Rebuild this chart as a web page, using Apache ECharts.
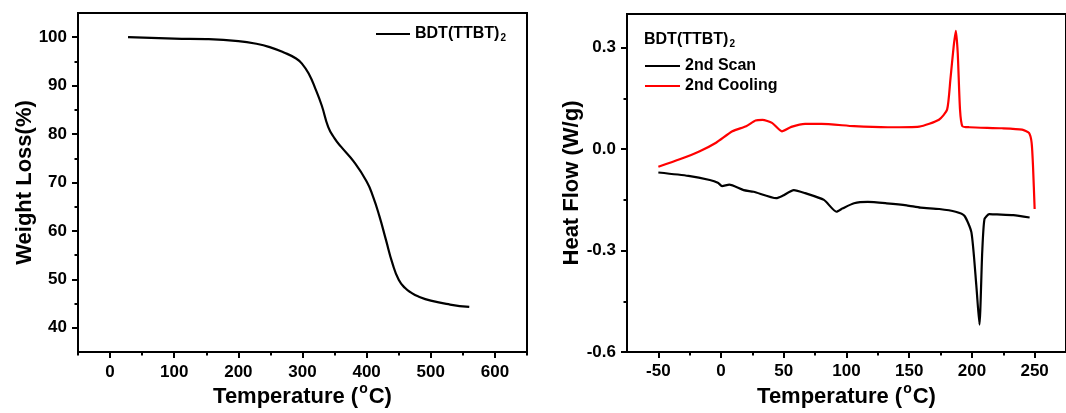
<!DOCTYPE html>
<html>
<head>
    <meta charset="UTF-8">
    <title>TGA / DSC</title>
    <script src="https://cdn.jsdelivr.net/npm/echarts@6/dist/echarts.min.js"></script>
    <style>
        body, html {
            margin: 0;
            padding: 0;
            background: #fff;
        }

        #chart {
            width: 1066px;
            height: 413px;
        }
    </style>
</head>
<body>
<div id="chart"></div>
<script>
    // TGA curve (left)
    var tgaTemp = [28, 100, 150, 200, 230, 250, 270, 290, 300, 310, 320, 330, 340, 350, 360, 380, 400, 410, 420, 430, 440, 450, 460, 470, 480, 500, 530, 560];
    var tgaWeight = [100, 99.7, 99.6, 99.2, 98.6, 97.9, 96.9, 95.6, 94.4, 92.4, 89.4, 85.9, 81.5, 79.1, 77.4, 74.3, 70.2, 67.1, 63.0, 58.2, 53.4, 49.9, 48.2, 47.2, 46.5, 45.6, 44.8, 44.3];

    // DSC curves (right)
    var scanTemp = [-50, -26, -9, -2.6, 0.8, 6.5, 18, 26, 44, 49, 58, 67, 82, 92, 97, 106, 117, 132, 148, 159, 174, 187, 194, 199.6, 203.5, 206, 208.2, 210, 213.8, 220, 233, 246];
    var scanFlow = [-0.069, -0.079, -0.091, -0.099, -0.109, -0.105, -0.121, -0.126, -0.145, -0.138, -0.121, -0.130, -0.150, -0.185, -0.175, -0.160, -0.156, -0.160, -0.166, -0.173, -0.177, -0.185, -0.197, -0.246, -0.403, -0.519, -0.305, -0.207, -0.192, -0.193, -0.195, -0.202];
    var coolTemp = [-50, -33, -17, -4, 9, 20, 27.5, 33, 40.6, 48.5, 56, 67, 80, 106, 133, 158, 173.7, 180.2, 182.8, 185.4, 187.2, 188.7, 190.5, 192.4, 198, 224, 240, 245.5, 247.6, 248.7, 250];
    var coolFlow = [-0.052, -0.030, -0.006, 0.019, 0.053, 0.068, 0.085, 0.087, 0.078, 0.053, 0.066, 0.075, 0.075, 0.068, 0.065, 0.067, 0.087, 0.117, 0.205, 0.303, 0.35, 0.283, 0.117, 0.068, 0.065, 0.062, 0.058, 0.048, 0.019, -0.050, -0.177];

    // tick labels
    var tgaXMajor = [0, 100, 200, 300, 400, 500, 600];
    var tgaXMinor = [-50, 50, 150, 250, 350, 450, 550, 650];
    var tgaYMajor = [40, 50, 60, 70, 80, 90, 100];
    var tgaYMinor = [45, 55, 65, 75, 85, 95];
    var dscXMajor = [-50, 0, 50, 100, 150, 200, 250];
    var dscXMinor = [-25, 25, 75, 125, 175, 225];
    var dscYMajor = [-0.6, -0.3, 0, 0.3];
    var dscYMinor = [-0.45, -0.15, 0.15];

    function pairs(xs, ys) {
        var out = [];
        for (var i = 0; i < xs.length; i++) out.push([xs[i], ys[i]]);
        return out;
    }

    var FONT = '"Liberation Sans", Arial, sans-serif';
    var nameStyle = {color: '#000', fontFamily: FONT, fontWeight: 'bold', fontSize: 22};
    var tempName = '{a|Temperature (}{s|o}{a|C)}';
    var tempRich = {
        a: {color: '#000', fontFamily: FONT, fontWeight: 'bold', fontSize: 22},
        s: {color: '#000', fontFamily: FONT, fontWeight: 'bold', fontSize: 14, padding: [0, 1, 16, 1]}
    };
    var subRich = {
        a: {color: '#000', fontFamily: FONT, fontWeight: 'bold', fontSize: 16},
        s: {color: '#000', fontFamily: FONT, fontWeight: 'bold', fontSize: 10, padding: [9, 0, 0, 1]}
    };
    var labelFont = {color: '#000', fontFamily: FONT, fontWeight: 'bold', fontSize: 17};

    // ticks only (optionally with the axis line and the name)
    function tickAxis(grid, pos, min, max, vals, len, extra) {
        var ax = {
            type: 'value', gridIndex: grid, position: pos, min: min, max: max,
            axisLine: {show: false, onZero: false},
            axisTick: {show: true, customValues: vals, length: len, lineStyle: {color: '#000', width: 2}},
            axisLabel: {show: false},
            splitLine: {show: false}
        };
        for (var k in extra) ax[k] = extra[k];
        return ax;
    }

    // labels only, from the opposite side moved across the grid
    function labelAxis(grid, pos, offset, min, max, vals, fmt, margin) {
        return {
            type: 'value', gridIndex: grid, position: pos, offset: offset, min: min, max: max,
            axisLine: {show: false, onZero: false},
            axisTick: {show: false},
            axisLabel: Object.assign({show: true, inside: true, customValues: vals, formatter: fmt, margin: margin}, labelFont),
            splitLine: {show: false}
        };
    }

    var lineOn = {show: true, onZero: false, lineStyle: {color: '#000', width: 2}};
    var flowFmt = function (v) { return v.toFixed(1); };

    var echart = echarts.init(document.getElementById('chart'));
    var option = {
        animation: false,
        backgroundColor: '#fff',
        grid: [
            {left: 78, top: 13, width: 449, height: 339, show: true, borderColor: '#000', borderWidth: 2},
            {left: 627, top: 14, width: 450, height: 339, show: true, borderColor: '#000', borderWidth: 2}
        ],
        title: {
            text: '{a|BDT(TTBT)}{s|2}', left: 639, top: 25,
            textStyle: {rich: subRich}
        },
        legend: [
            {
                data: ['BDT(TTBT)2'], left: 371, top: 21, icon: 'rect', itemWidth: 34, itemHeight: 2.2,
                formatter: function () { return '{a|BDT(TTBT)}{s|2}'; },
                textStyle: {rich: subRich}
            },
            {
                data: ['2nd Scan', '2nd Cooling'], orient: 'vertical', left: 640, top: 52,
                icon: 'rect', itemWidth: 35, itemHeight: 2.2, itemGap: 2,
                textStyle: {color: '#000', fontFamily: FONT, fontWeight: 'bold', fontSize: 16, lineHeight: 18}
            }
        ],
        xAxis: [
            tickAxis(0, 'bottom', -50, 650, tgaXMajor, 6, {
                axisLine: lineOn,
                name: tempName, nameLocation: 'middle', nameGap: 30,
                nameTextStyle: {rich: tempRich}
            }),
            tickAxis(0, 'bottom', -50, 650, tgaXMinor, 3.5),
            labelAxis(0, 'top', -339, -50, 650, tgaXMajor, null, 12),
            tickAxis(1, 'bottom', -75, 275, dscXMajor, 6, {
                axisLine: lineOn,
                name: tempName, nameLocation: 'middle', nameGap: 30,
                nameTextStyle: {rich: tempRich}
            }),
            tickAxis(1, 'bottom', -75, 275, dscXMinor, 3.5),
            labelAxis(1, 'top', -339, -75, 275, dscXMajor, null, 10)
        ],
        yAxis: [
            tickAxis(0, 'left', 35, 105, tgaYMajor, 6, {
                axisLine: lineOn,
                name: 'Weight Loss(%)', nameLocation: 'middle', nameGap: 42, nameRotate: 90,
                nameTextStyle: nameStyle
            }),
            tickAxis(0, 'left', 35, 105, tgaYMinor, 3.5),
            labelAxis(0, 'right', -449, 35, 105, tgaYMajor, null, 11),
            tickAxis(1, 'left', -0.6, 0.4, dscYMajor, 6, {
                axisLine: lineOn,
                name: 'Heat Flow (W/g)', nameLocation: 'middle', nameGap: 44, nameRotate: 90,
                nameTextStyle: nameStyle
            }),
            tickAxis(1, 'left', -0.6, 0.4, dscYMinor, 3.5),
            labelAxis(1, 'right', -450, -0.6, 0.4, dscYMajor, flowFmt, 0)
        ],
        series: [
            {
                name: 'BDT(TTBT)2', type: 'line', xAxisIndex: 0, yAxisIndex: 0,
                data: pairs(tgaTemp, tgaWeight), showSymbol: false, symbol: 'none',
                smooth: 0.5,
                lineStyle: {color: '#000', width: 2.2}, itemStyle: {color: '#000'}
            },
            {
                name: '2nd Scan', type: 'line', xAxisIndex: 3, yAxisIndex: 3,
                data: pairs(scanTemp, scanFlow), showSymbol: false, symbol: 'none',
                smooth: 0.2,
                lineStyle: {color: '#000', width: 2.2}, itemStyle: {color: '#000'}
            },
            {
                name: '2nd Cooling', type: 'line', xAxisIndex: 3, yAxisIndex: 3,
                data: pairs(coolTemp, coolFlow), showSymbol: false, symbol: 'none',
                smooth: 0.2,
                lineStyle: {color: '#ff0000', width: 2.2}, itemStyle: {color: '#ff0000'}
            }
        ]
    };
    echart.setOption(option);
</script>
</body>
</html>
